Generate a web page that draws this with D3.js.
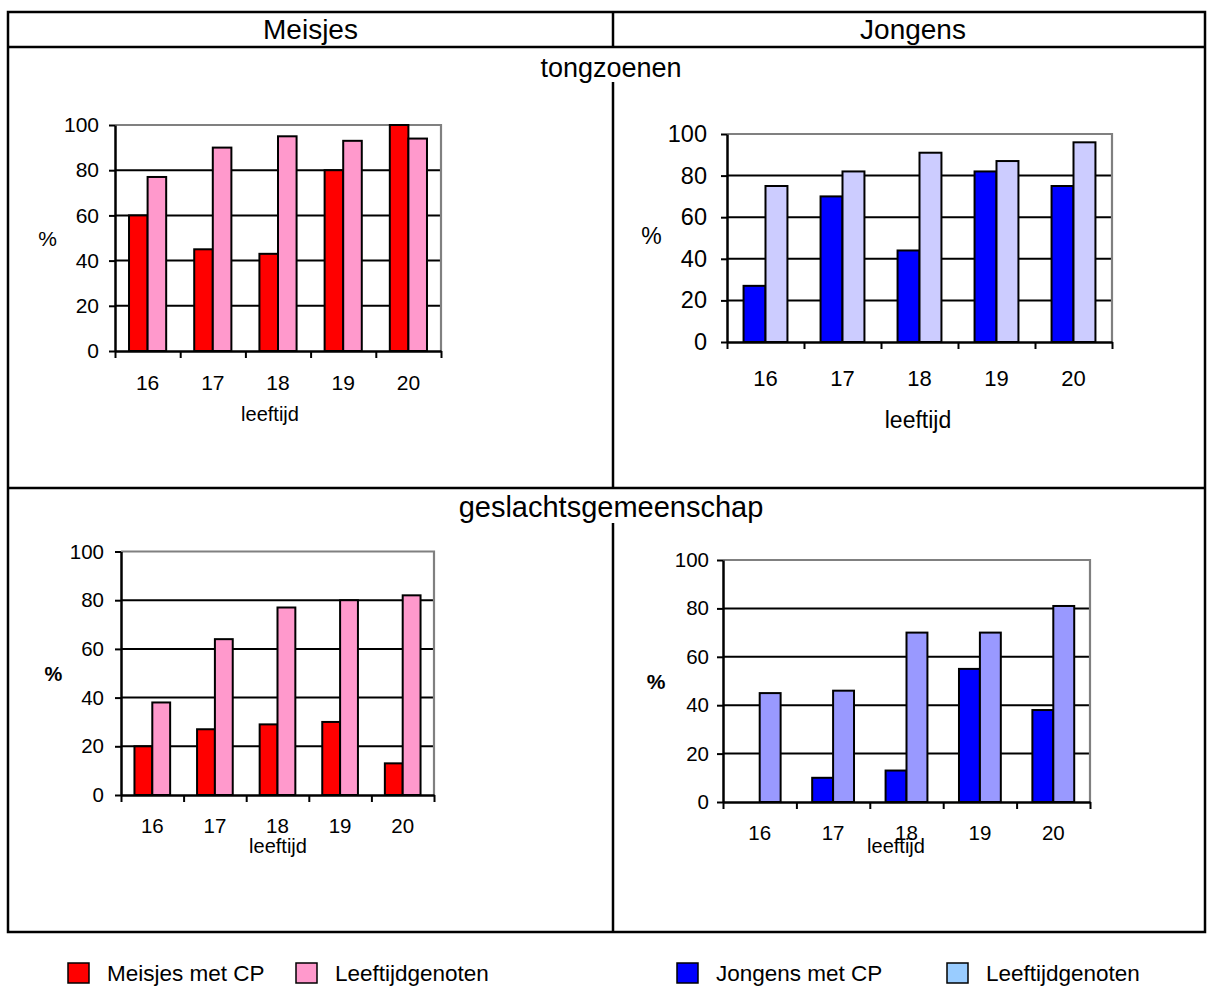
<!DOCTYPE html>
<html><head><meta charset="utf-8">
<script src="https://cdn.jsdelivr.net/npm/d3@7"></script>
<style>
body{margin:0;background:#fff}
svg{display:block}
text{font-family:"Liberation Sans",Arial,Helvetica,sans-serif;fill:#000}
</style>
</head><body>
<svg id="chart" width="1207" height="987"></svg>
<script>
// ---------- data ----------
const ages = ["16", "17", "18", "19", "20"];
const yTicks = [0, 20, 40, 60, 80, 100];

const meisjesTongCP    = [60, 45, 43, 80, 100];
const meisjesTongPeers = [77, 90, 95, 93, 94];
const jongensTongCP    = [27, 70, 44, 82, 75];
const jongensTongPeers = [75, 82, 91, 87, 96];
const meisjesSexCP     = [20, 27, 29, 30, 13];
const meisjesSexPeers  = [38, 64, 77, 80, 82];
const jongensSexCP     = [0, 10, 13, 55, 38];
const jongensSexPeers  = [45, 46, 70, 70, 81];

const columnTitles = ["Meisjes", "Jongens"];
const rowTitles = ["tongzoenen", "geslachtsgemeenschap"];
const xTitle = "leeftijd";
const yTitle = "%";
const legendLabels = ["Meisjes met CP", "Leeftijdgenoten", "Jongens met CP", "Leeftijdgenoten"];
const legendColors = ["#FF0000", "#FF99CC", "#0000FF", "#99CCFF"];

// ---------- layout ----------
const panels = [
  {cp: meisjesTongCP, peers: meisjesTongPeers, cpColor: "#FF0000", peerColor: "#FF99CC",
   x0: 115, x1: 441, yTop: 125, yBot: 351, tickFs: 21, xFs: 21, yPad: 10, xPad: 24,
   pctX: 47.5, pctY: 246, pctBold: false, pctFs: 21, leefX: 270, leefY: 421, leefFs: 20},
  {cp: jongensTongCP, peers: jongensTongPeers, cpColor: "#0000FF", peerColor: "#CCCCFF",
   x0: 727, x1: 1112, yTop: 134, yBot: 342, tickFs: 23.5, xFs: 22, yPad: 14, xPad: 28,
   pctX: 651.5, pctY: 244, pctBold: false, pctFs: 23, leefX: 918, leefY: 428, leefFs: 23},
  {cp: meisjesSexCP, peers: meisjesSexPeers, cpColor: "#FF0000", peerColor: "#FF99CC",
   x0: 121, x1: 434, yTop: 551.5, yBot: 795, tickFs: 20.5, xFs: 20.5, yPad: 11, xPad: 23,
   pctX: 53.5, pctY: 681, pctBold: true, pctFs: 20, leefX: 278, leefY: 853, leefFs: 20},
  {cp: jongensSexCP, peers: jongensSexPeers, cpColor: "#0000FF", peerColor: "#9999FF",
   x0: 723, x1: 1090, yTop: 560, yBot: 802, tickFs: 20.5, xFs: 20.5, yPad: 8, xPad: 23,
   pctX: 656, pctY: 689, pctBold: true, pctFs: 21, leefX: 896, leefY: 853, leefFs: 20}
];

const svg = d3.select("#chart");

// ---------- frame ----------
const L = 8, R = 1205, T = 12, B = 932, MID = 613, HEAD = 47, ROW = 488;
const frame = svg.append("g").attr("stroke", "#000").attr("stroke-width", 2.5).attr("fill", "none");
frame.append("rect").attr("x", L).attr("y", T).attr("width", R - L).attr("height", B - T);
frame.append("line").attr("x1", L).attr("x2", R).attr("y1", HEAD).attr("y2", HEAD);
frame.append("line").attr("x1", L).attr("x2", R).attr("y1", ROW).attr("y2", ROW);
[[T, HEAD], [82, ROW], [523, B]].forEach(([a, b]) =>
  frame.append("line").attr("x1", MID).attr("x2", MID).attr("y1", a).attr("y2", b));

svg.selectAll("text.coltitle").data(columnTitles).join("text")
  .attr("class", "coltitle")
  .attr("x", (d, i) => i === 0 ? (L + MID) / 2 : (MID + R) / 2 + 4)
  .attr("y", 39).attr("text-anchor", "middle").attr("font-size", 28).text(d => d);

svg.selectAll("text.rowtitle").data(rowTitles).join("text")
  .attr("class", "rowtitle")
  .attr("x", 611).attr("y", (d, i) => i === 0 ? 77 : 517)
  .attr("text-anchor", "middle").attr("font-size", (d, i) => i === 0 ? 27 : 29).text(d => d);

// ---------- panels ----------
panels.forEach(p => {
  const g = svg.append("g");
  const pad = 0.43;
  const x = d3.scaleBand().domain(ages).range([p.x0, p.x1]).paddingInner(pad).paddingOuter(pad / 2);
  const xs = d3.scaleBand().domain(["cp", "peers"]).range([0, x.bandwidth()]);
  const xb = d3.scaleLinear().domain([0, ages.length]).range([p.x0, p.x1]);
  const y = d3.scaleLinear().domain([0, 100]).range([p.yBot, p.yTop]);

  // gridlines
  g.append("g").selectAll("line").data(yTicks.filter(t => t > 0 && t < 100)).join("line")
    .attr("x1", p.x0).attr("x2", p.x1).attr("y1", d => y(d)).attr("y2", d => y(d))
    .attr("stroke", "#000").attr("stroke-width", 2);
  // plot area border (top & right, grey)
  g.append("path")
    .attr("d", `M${p.x0},${y(100)}H${p.x1}V${y(0)}`)
    .attr("fill", "none").attr("stroke", "#808080").attr("stroke-width", 2.2);

  // bars
  const rows = ages.map((a, i) => ({age: a, cp: p.cp[i], peers: p.peers[i]}));
  const grp = g.append("g").selectAll("g").data(rows).join("g")
    .attr("transform", d => `translate(${x(d.age)},0)`);
  grp.selectAll("rect").data(d => [["cp", d.cp], ["peers", d.peers]]).join("rect")
    .attr("x", d => xs(d[0]))
    .attr("width", xs.bandwidth())
    .attr("y", d => y(d[1]))
    .attr("height", d => y(0) - y(d[1]))
    .attr("fill", d => d[0] === "cp" ? p.cpColor : p.peerColor)
    .attr("stroke", "#000").attr("stroke-width", 2)
    .attr("visibility", d => d[1] > 0 ? "visible" : "hidden");

  // y axis
  const ya = g.append("g").attr("transform", `translate(${p.x0},0)`)
    .call(d3.axisLeft(y).tickValues(yTicks).tickSize(6).tickSizeOuter(0).tickPadding(p.yPad));
  ya.select(".domain").attr("stroke", "#000").attr("stroke-width", 2.5);
  ya.selectAll(".tick line").attr("stroke", "#000").attr("stroke-width", 2);
  ya.selectAll(".tick text").attr("font-size", p.tickFs).attr("font-family", null);

  // x axis (labels at band centers)
  const xa = g.append("g").attr("transform", `translate(0,${p.yBot})`)
    .call(d3.axisBottom(x).tickSize(0).tickSizeOuter(0).tickPadding(p.xPad));
  xa.select(".domain").attr("stroke", "#000").attr("stroke-width", 2.5);
  xa.selectAll(".tick text").attr("font-size", p.xFs).attr("font-family", null);

  // x ticks at category boundaries
  const xt = g.append("g").attr("transform", `translate(0,${p.yBot})`)
    .call(d3.axisBottom(xb).tickValues(d3.range(ages.length + 1)).tickFormat("").tickSize(7).tickSizeOuter(0));
  xt.select(".domain").remove();
  xt.selectAll(".tick line").attr("stroke", "#000").attr("stroke-width", 2);

  // axis titles
  g.append("text").attr("x", p.pctX).attr("y", p.pctY).attr("text-anchor", "middle")
    .attr("font-size", p.pctFs).attr("font-weight", p.pctBold ? "bold" : "normal").text(yTitle);
  g.append("text").attr("x", p.leefX).attr("y", p.leefY).attr("text-anchor", "middle")
    .attr("font-size", p.leefFs).text(xTitle);
});

// ---------- legend ----------
const legendSquareX = [68, 296, 677, 947];
const lg = svg.append("g").selectAll("g").data(legendLabels).join("g")
  .attr("transform", (d, i) => `translate(${legendSquareX[i]},963)`);
lg.append("rect").attr("width", 21).attr("height", 20)
  .attr("fill", (d, i) => legendColors[i]).attr("stroke", "#000").attr("stroke-width", 1.5);
lg.append("text").attr("x", 39).attr("y", 18).attr("font-size", 22.5).text(d => d);
</script>
</body></html>
